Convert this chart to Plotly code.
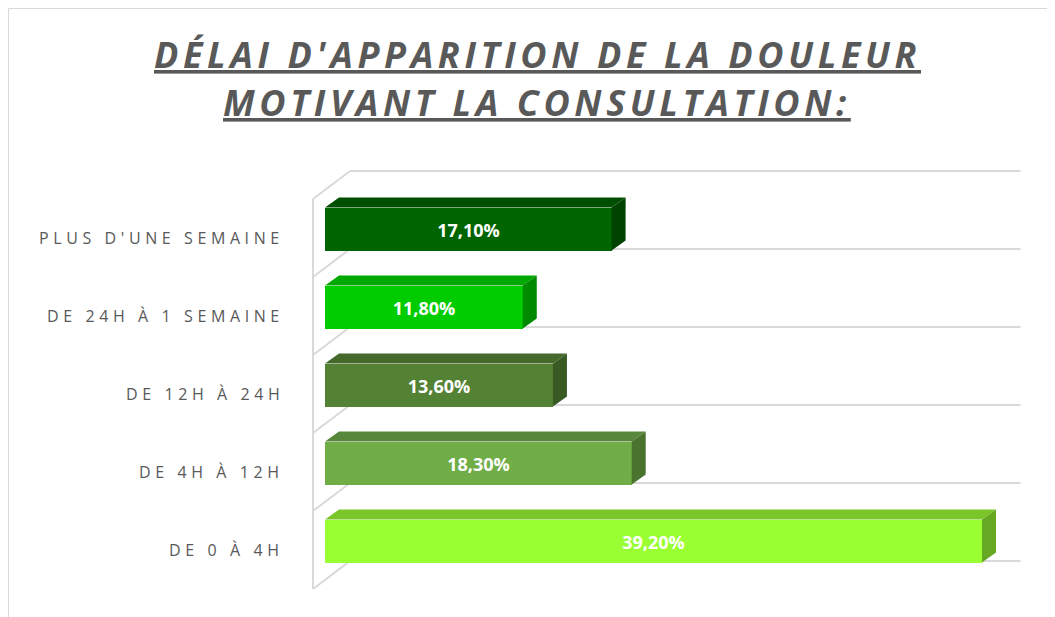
import plotly.graph_objects as go

# ---------------- data ----------------
categories = ["DE 0 À 4H", "DE 4H À 12H", "DE 12H À 24H", "DE 24H À 1 SEMAINE", "PLUS D'UNE SEMAINE"]
values = [39.2, 18.3, 13.6, 11.8, 17.1]
front_colors = ["#99FF33", "#70AD47", "#548235", "#00CC00", "#006400"]
top_colors = ["#7AC52A", "#56873A", "#44692B", "#00A800", "#004F00"]
side_colors = ["#66A822", "#4A7330", "#3A5A24", "#008A00", "#004300"]
title_lines = ["DÉLAI D'APPARITION DE LA DOULEUR", "MOTIVANT LA CONSULTATION:"]
axis_max = 40

# ---------------- geometry (scales) ----------------
W, H = 1055, 617
OFF = 8  # page body margin
px_per_unit_x = 16.76
x0_px = 325 - OFF
px_per_cat = 78
y0_px = 541 - OFF
x_range = [-x0_px / px_per_unit_x, (W - x0_px) / px_per_unit_x]
y_range = [(y0_px - H) / px_per_cat, y0_px / px_per_cat]

bar_w = 43 / px_per_cat
bdx, bdy = 14 / px_per_unit_x, 10 / px_per_cat          # bar depth
wfx, wfy = -12 / px_per_unit_x, -9 / px_per_cat         # wall front offset
wbx, wby = 25 / px_per_unit_x, 19 / px_per_cat          # wall back offset

ks = list(range(len(categories)))
labels = [f"{v:.2f}".replace(".", ",") + "%" for v in values]

fig = go.Figure()

# front faces
fig.add_trace(go.Bar(
    x=values, y=ks, orientation="h", width=bar_w, base=0,
    marker=dict(color=front_colors, line=dict(width=0)),
    text=labels, textposition="inside", insidetextanchor="middle", textangle=0,
    constraintext="none",
    textfont=dict(family="Open Sans", size=18, color="white", weight="bold"),
    hoverinfo="skip", showlegend=False,
))

# top and side faces
for k, v in zip(ks, values):
    yt, yb = k + bar_w / 2, k - bar_w / 2
    fig.add_trace(go.Scatter(
        x=[0, v, v + bdx, bdx, 0], y=[yt, yt, yt + bdy, yt + bdy, yt],
        mode="lines", fill="toself", fillcolor=top_colors[k],
        line=dict(width=0, color=top_colors[k]), hoverinfo="skip", showlegend=False))
    fig.add_trace(go.Scatter(
        x=[v, v + bdx, v + bdx, v, v], y=[yb, yb + bdy, yt + bdy, yt, yb],
        mode="lines", fill="toself", fillcolor=side_colors[k],
        line=dict(width=0, color=side_colors[k]), hoverinfo="skip", showlegend=False))

# gridlines (back wall + left wall)
grid_col = "#D9D9D9"
shapes = []
bounds = [k - 0.5 for k in ks] + [ks[-1] + 0.5]
for b in bounds:
    shapes.append(dict(type="line", xref="x", yref="y", layer="below",
                       x0=wfx, y0=b + wfy, x1=wbx, y1=b + wby,
                       line=dict(color=grid_col, width=2)))
    shapes.append(dict(type="line", xref="x", yref="y", layer="below",
                       x0=wbx, y0=b + wby, x1=axis_max + wbx, y1=b + wby,
                       line=dict(color=grid_col, width=2)))
shapes.append(dict(type="line", xref="x", yref="y", layer="below",
                   x0=wfx, y0=bounds[0] + wfy, x1=wfx, y1=bounds[-1] + wfy,
                   line=dict(color=grid_col, width=2)))
# chart border
shapes.append(dict(type="rect", xref="paper", yref="paper", layer="below",
                   x0=0.5 / W, y0=-0.02, x1=1.02, y1=1 - 0.5 / H,
                   line=dict(color=grid_col, width=1)))

annotations = []
for k, c in zip(ks, categories):
    annotations.append(dict(
        x=-2.3, y=k + wfy, xref="x", yref="y", xanchor="right", yanchor="middle",
        text=f'<span style="letter-spacing:4.6px">{c}</span>', showarrow=False,
        font=dict(family="Open Sans", size=16, color="#595959")))

title_y_px = [55 - OFF, 103 - OFF]
for t, ypx in zip(title_lines, title_y_px):
    annotations.append(dict(
        x=(537 - OFF) / W, y=1 - ypx / H, xref="paper", yref="paper",
        xanchor="center", yanchor="middle",
        text=f'<span style="letter-spacing:4.6px">{t}</span>', showarrow=False,
        font=dict(family="Open Sans", size=36, color="#595959", weight="bold",
                  style="italic", lineposition="under")))

fig.update_layout(
    width=W, height=H,
    margin=dict(l=0, r=0, t=0, b=0),
    paper_bgcolor="white", plot_bgcolor="white",
    xaxis=dict(range=x_range, visible=False, fixedrange=True),
    yaxis=dict(range=y_range, visible=False, fixedrange=True),
    shapes=shapes, annotations=annotations,
    bargap=0,
)

fig.write_html("out.html")
